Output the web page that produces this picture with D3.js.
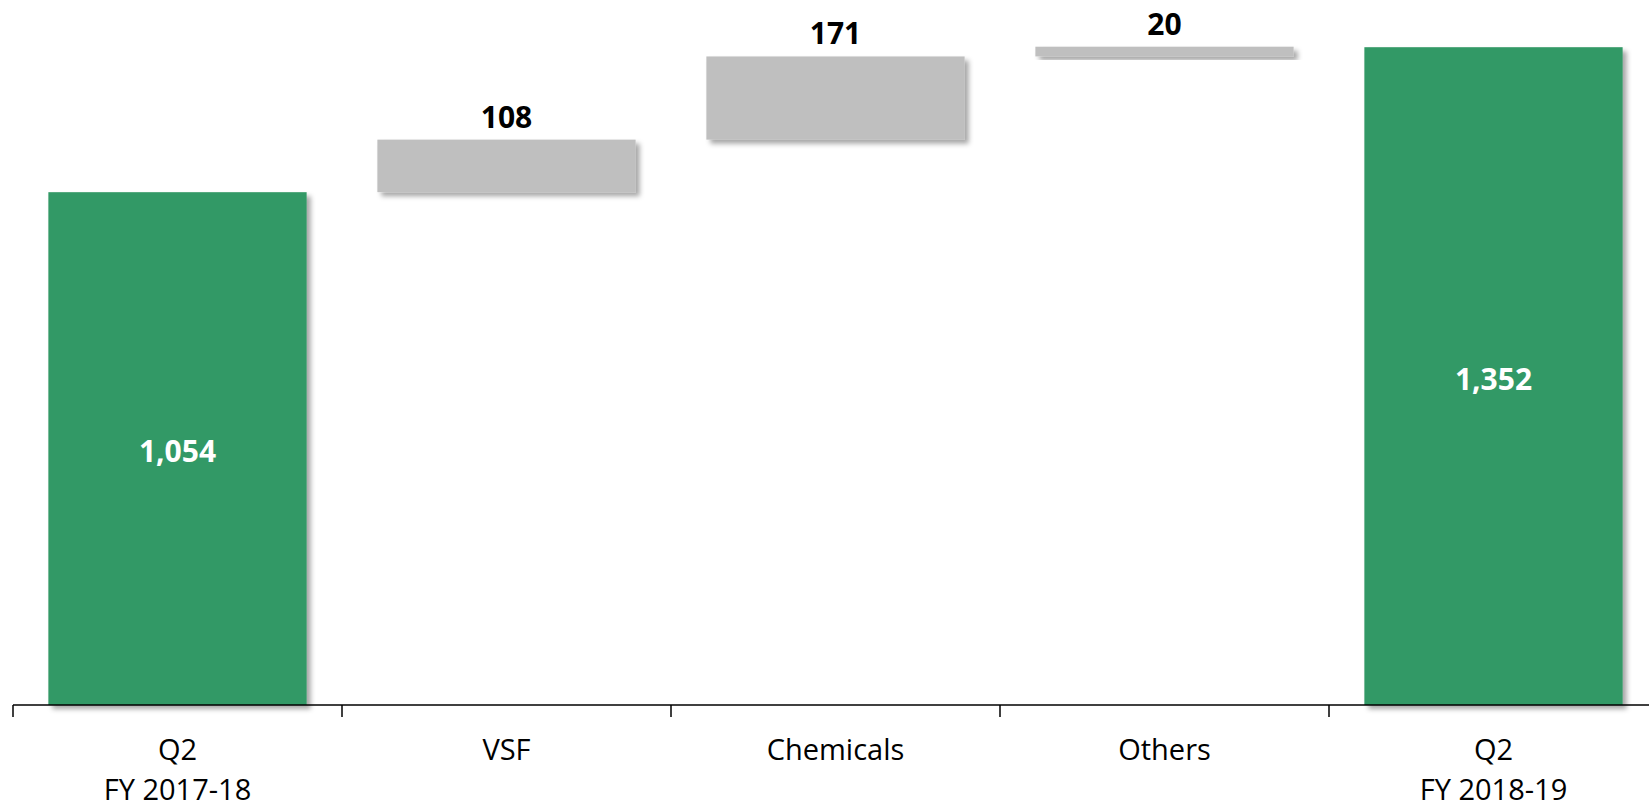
<!DOCTYPE html>
<html>
<head>
<meta charset="utf-8">
<script src="https://cdn.jsdelivr.net/npm/d3@7"></script>
<style>
  html, body { margin: 0; padding: 0; background: #ffffff; }
  svg { display: block; }
  text { font-family: "Open Sans", "Liberation Sans", sans-serif; }
</style>
</head>
<body>
<svg id="chart" width="1649" height="809"></svg>
<script>
// ---- data ----
const categories = ["Q2|FY 2017-18", "VSF", "Chemicals", "Others", "Q2|FY 2018-19"];
const kinds = ["total", "delta", "delta", "delta", "total"];
const values = [1054, 108, 171, 20, 1352];
const valueLabels = ["1,054", "108", "171", "20", "1,352"];

// ---- layout ----
const W = 1649, H = 809;
const axisY = 705;
const svg = d3.select("#chart");

const x = d3.scaleBand().domain(categories).range([13, 1658]).paddingInner(0.215).paddingOuter(0.1075);
const y = d3.scaleLinear().domain([0, 1449]).range([axisY, 0]);

// compute waterfall extents
let running = 0;
const bars = categories.map((c, i) => {
  let lo, hi;
  if (kinds[i] === "total") { lo = 0; hi = values[i]; running = values[i]; }
  else { lo = running; hi = running + values[i]; running = hi; }
  return { cat: c, kind: kinds[i], lo, hi, label: valueLabels[i] };
});

// shadow filter
const defs = svg.append("defs");
const f = defs.append("filter").attr("id", "shadow").attr("x", "-10%").attr("y", "-10%").attr("width", "130%").attr("height", "140%");
f.append("feDropShadow").attr("dx", 4).attr("dy", 4).attr("stdDeviation", 2.5)
  .attr("flood-color", "#000").attr("flood-opacity", 0.35);

svg.append("g").selectAll("rect").data(bars).join("rect")
  .attr("x", d => x(d.cat))
  .attr("width", x.bandwidth())
  .attr("y", d => y(d.hi))
  .attr("height", d => y(d.lo) - y(d.hi))
  .attr("fill", d => d.kind === "total" ? "#339966" : "#bfbfbf")
  .attr("filter", "url(#shadow)");

// value labels
svg.append("g").selectAll("text").data(bars).join("text")
  .attr("x", d => x(d.cat) + x.bandwidth() / 2)
  .attr("y", d => d.kind === "total" ? (y(d.lo) + y(d.hi)) / 2 + 3 : y(d.hi) - 12)
  .attr("dy", d => d.kind === "total" ? "0.36em" : 0)
  .attr("text-anchor", "middle")
  .attr("font-size", 30)
  .attr("font-weight", "bold")
  .attr("fill", d => d.kind === "total" ? "#ffffff" : "#000000")
  .text(d => d.label);

// axis line and boundary ticks
const step = x.step();
const start = x.range()[0];
const axisG = svg.append("g");
axisG.append("line")
  .attr("x1", start).attr("x2", x.range()[1])
  .attr("y1", axisY).attr("y2", axisY)
  .attr("stroke", "#000").attr("stroke-width", 1.5);
const boundaries = d3.range(categories.length + 1).map(i => start + i * step);
axisG.selectAll("line.tick").data(boundaries).join("line")
  .attr("class", "tick")
  .attr("x1", d => d).attr("x2", d => d)
  .attr("y1", axisY).attr("y2", axisY + 12)
  .attr("stroke", "#000").attr("stroke-width", 1.5);

// category labels
const catG = svg.append("g").selectAll("text").data(categories).join("text")
  .attr("x", d => x(d) + x.bandwidth() / 2)
  .attr("y", 760)
  .attr("text-anchor", "middle")
  .attr("font-size", 29)
  .attr("fill", "#000");
catG.each(function(d) {
  const lines = d.split("|");
  const t = d3.select(this);
  lines.forEach((ln, i) => {
    t.append("tspan")
      .attr("x", x(d) + x.bandwidth() / 2)
      .attr("dy", i === 0 ? 0 : 40)
      .text(ln);
  });
});
</script>
</body>
</html>
